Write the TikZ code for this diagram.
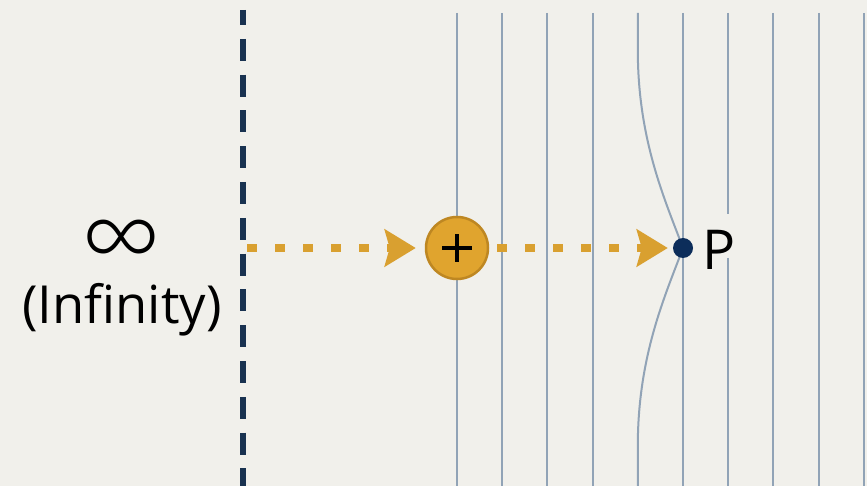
\documentclass[tikz,border=0pt]{standalone}
\usepackage{fontspec}
\setmainfont{Open Sans}
\newfontfamily\inffont{Lato Light}
\usetikzlibrary{arrows.meta}
\definecolor{bg}{RGB}{241,240,235}
\definecolor{navy}{RGB}{25,50,80}
\definecolor{dotnavy}{RGB}{12,45,90}
\definecolor{field}{RGB}{145,163,182}
\definecolor{gold}{RGB}{217,160,48}
\definecolor{goldfill}{RGB}{224,164,46}
\definecolor{goldedge}{RGB}{190,135,34}
\tikzset{
  fieldline/.style={draw=field, line width=2pt},
  boundary/.style={draw=navy, line width=5.5pt, dash pattern=on 22pt off 13.8pt, dash phase=7pt},
  goldarrow/.style={draw=gold, line width=7.5pt, dash pattern=on 10pt off 18pt,
     -{Stealth[length=31pt, width=37pt, inset=5pt, fill=gold]}},
  charge/.style={circle, fill=goldfill, draw=goldedge, line width=2.5pt, minimum size=62pt, inner sep=0pt},
  testpt/.style={circle, fill=dotnavy, minimum size=20pt, inner sep=0pt},
  lbl/.style={text=black, inner sep=0pt}
}
\begin{document}
\begin{tikzpicture}[x=1pt,y=-1pt]
\fill[bg] (0,0) rectangle (867,486);
\useasboundingbox (0,0) rectangle (867,486);
% field lines
\foreach \x in {457,502.2,547.4,592.6,683,773.4,818.6}
  \draw[fieldline] (\x,13) -- (\x,486);
\fill[field] (862.8,13) rectangle (865.2,486);
\draw[fieldline] (728.2,13) -- (728.2,214);
\draw[fieldline] (728.2,258) -- (728.2,486);
\draw[fieldline] (637.8,13) -- (637.8,50) .. controls (637.8,140) and (665,200) .. (683,248)
   .. controls (665,296) and (637.8,356) .. (637.8,446) -- (637.8,486);
% nodes
\coordinate (btop) at (243,10);
\coordinate (bbot) at (243,486);
\coordinate (start) at (247,248);
\node[charge] (plus) at (457,248) {};
\draw[black, line width=3.2pt] ([xshift=-15pt]plus.center) -- ([xshift=15pt]plus.center);
\draw[black, line width=3.2pt] ([yshift=-14pt]plus.center) -- ([yshift=14pt]plus.center);
\node[testpt] (dot) at (683,248) {};
\node[lbl, anchor=base west, font=\fontsize{55}{60}\selectfont] (P) at (702,270) {P};
% boundary at infinity
\draw[boundary] (btop) -- (bbot);
% arrows
\draw[goldarrow, shorten >=9pt] (start) -- (plus.west);
\draw[goldarrow, shorten <=8pt, shorten >=5pt] (plus.east) -- (dot.west);
% texts
\node[lbl, font=\inffont\fontsize{110}{120}\selectfont] (inf) at (121.5,245) {∞};
\node[lbl, anchor=base, font=\fontsize{52.5}{60}\selectfont] (infty) at (122,323) {(Infinity)};
\end{tikzpicture}
\end{document}
